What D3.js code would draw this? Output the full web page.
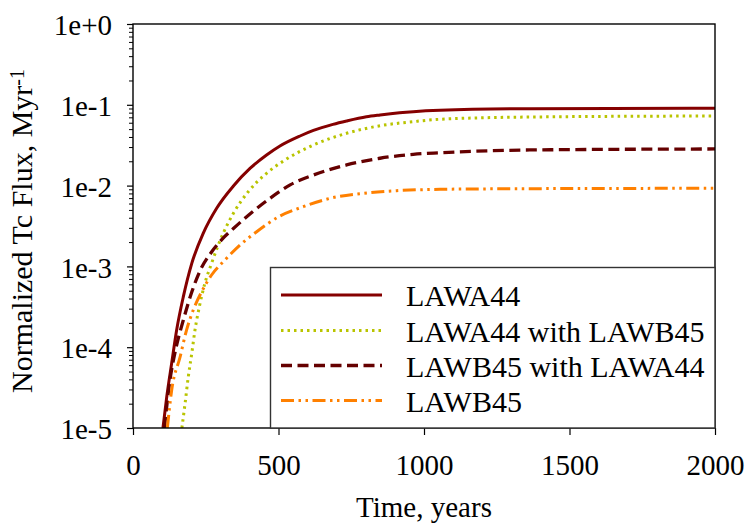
<!DOCTYPE html>
<html>
<head>
<meta charset="utf-8">
<script src="https://cdn.jsdelivr.net/npm/d3@7/dist/d3.min.js"></script>
<style>
  html, body { margin: 0; padding: 0; background: #fff; }
  svg { display: block; }
  text { font-family: "Liberation Serif", "Times New Roman", serif; fill: #000; }
</style>
</head>
<body>
<svg id="chart" width="746" height="527"></svg>
<script>
// Normalized Tc flux versus time for each waste form case
const seriesNames = ["LAWA44", "LAWA44 with LAWB45", "LAWB45 with LAWA44", "LAWB45"];

const timeLAWA44 = [103, 116, 133, 150, 173, 202, 242, 288, 345, 402, 459, 505, 574, 620, 687, 734, 802, 849, 916, 963, 1055, 1364, 2000];
const fluxLAWA44 = [1.0e-5, 2.44e-5, 6.37e-5, 1.63e-4, 4.22e-4, 1.09e-3, 2.6e-3, 5.28e-3, 9.89e-3, 0.0163, 0.0239, 0.0309, 0.0411, 0.0482, 0.0572, 0.063, 0.071, 0.0748, 0.0796, 0.0822, 0.0855, 0.0895, 0.0908];

const timeA44wB45 = [168, 179, 190, 202, 213, 228, 247, 270, 293, 310, 345, 396, 459, 522, 620, 734, 849, 963, 1055, 1364, 2000];
const fluxA44wB45 = [1.0e-5, 2.02e-5, 4.31e-5, 8.41e-5, 1.63e-4, 3.17e-4, 6.18e-4, 1.09e-3, 1.84e-3, 2.57e-3, 4.54e-3, 8.4e-3, 0.0142, 0.0207, 0.0318, 0.0444, 0.0551, 0.0618, 0.0662, 0.0706, 0.0727];

const timeB45wA44 = [108, 127, 144, 173, 202, 230, 270, 305, 345, 408, 471, 540, 620, 734, 849, 963, 1055, 1364, 2000];
const fluxB45wA44 = [1.0e-5, 3.93e-5, 8.5e-5, 2.17e-4, 4.82e-4, 8.77e-4, 1.51e-3, 2.15e-3, 2.94e-3, 4.65e-3, 6.97e-3, 0.0102, 0.0135, 0.018, 0.0218, 0.0244, 0.0255, 0.0276, 0.0284];

const timeLAWB45 = [118, 133, 162, 184, 207, 236, 270, 316, 368, 425, 505, 585, 677, 791, 906, 1055, 1364, 2000];
const fluxLAWB45 = [1.0e-5, 2.95e-5, 7.62e-5, 1.63e-4, 2.88e-4, 4.86e-4, 7.83e-4, 1.2e-3, 1.84e-3, 2.69e-3, 4.2e-3, 5.48e-3, 6.96e-3, 8.03e-3, 8.65e-3, 9.0e-3, 9.16e-3, 9.26e-3];

const xTicks = [0, 500, 1000, 1500, 2000];
const yTicks = [1, 1e-1, 1e-2, 1e-3, 1e-4, 1e-5];
const yTickLabels = ["1e+0", "1e-1", "1e-2", "1e-3", "1e-4", "1e-5"];

const series = [
  { name: seriesNames[0], t: timeLAWA44, v: fluxLAWA44, color: "#850000", width: 3, dash: null },
  { name: seriesNames[1], t: timeA44wB45, v: fluxA44wB45, color: "#B9C400", width: 3, dash: "2.5,4" },
  { name: seriesNames[2], t: timeB45wA44, v: fluxB45wA44, color: "#650000", width: 3.3, dash: "11,5.5" },
  { name: seriesNames[3], t: timeLAWB45, v: fluxLAWB45, color: "#FF8000", width: 3, dash: "13,4.5,2.5,4.5,2.5,4.5" }
];

const svg = d3.select("#chart");
const plot = { left: 133, right: 715, top: 24, bottom: 428 };

const x = d3.scaleLinear().domain([0, 2000]).range([plot.left, plot.right]);
const y = d3.scaleLog().domain([1e-5, 1]).range([plot.bottom, plot.top]);

svg.append("defs").append("clipPath").attr("id", "plotClip")
  .append("rect")
  .attr("x", plot.left).attr("y", plot.top)
  .attr("width", plot.right - plot.left).attr("height", plot.bottom - plot.top);

// curves
const line = d3.line()
  .x(d => x(d[0]))
  .y(d => y(d[1]))
  .curve(d3.curveMonotoneX);

const curves = svg.append("g").attr("clip-path", "url(#plotClip)");
series.forEach(s => {
  curves.append("path")
    .datum(s.t.map((t, i) => [t, s.v[i]]))
    .attr("fill", "none")
    .attr("stroke", s.color)
    .attr("stroke-width", s.width)
    .attr("stroke-dasharray", s.dash)
    .attr("d", line);
});

// minor log ticks on the y axis
const minorTicks = [];
for (let e = -5; e < 0; e++) {
  for (let m = 2; m <= 9; m++) minorTicks.push(m * Math.pow(10, e));
}
svg.append("g")
  .attr("transform", `translate(${plot.left},0)`)
  .call(d3.axisLeft(y).tickValues(minorTicks).tickSize(4).tickFormat(""))
  .call(g => g.select(".domain").remove())
  .call(g => g.selectAll("line").attr("stroke", "#000").attr("stroke-width", 1));

// major y ticks with labels
const yAxis = svg.append("g")
  .attr("transform", `translate(${plot.left},0)`)
  .call(d3.axisLeft(y).tickValues(yTicks).tickSize(6).tickSizeOuter(0)
    .tickFormat((d, i) => yTickLabels[i]));
yAxis.select(".domain").remove();
yAxis.selectAll("line").attr("stroke", "#000").attr("stroke-width", 1.2);
yAxis.selectAll("text")
  .attr("x", -21).attr("dy", "0.37em")
  .style("font-size", "29px")
  .style("font-family", "'Liberation Serif', 'Times New Roman', serif");

// x axis ticks and labels
const xAxis = svg.append("g")
  .attr("transform", `translate(0,${plot.bottom})`)
  .call(d3.axisBottom(x).tickValues(xTicks).tickSize(7).tickSizeOuter(0)
    .tickFormat(d3.format("d")));
xAxis.select(".domain").remove();
xAxis.selectAll("line").attr("stroke", "#000").attr("stroke-width", 1.2);
xAxis.selectAll("text")
  .attr("y", 47).attr("dy", null)
  .style("font-size", "29px")
  .style("font-family", "'Liberation Serif', 'Times New Roman', serif");

// plot frame
svg.append("rect")
  .attr("x", plot.left).attr("y", plot.top)
  .attr("width", plot.right - plot.left).attr("height", plot.bottom - plot.top)
  .attr("fill", "none").attr("stroke", "#000").attr("stroke-width", 1.4);

// legend
const legend = svg.append("g");
legend.append("rect")
  .attr("x", 270.5).attr("y", 267.5)
  .attr("width", plot.right - 270.5).attr("height", plot.bottom - 267.5)
  .attr("fill", "#fff").attr("stroke", "#333").attr("stroke-width", 1.4);
const rowY = [295, 330.5, 365.5, 400.5];
series.forEach((s, i) => {
  legend.append("line")
    .attr("x1", 281).attr("x2", 382)
    .attr("y1", rowY[i]).attr("y2", rowY[i])
    .attr("stroke", s.color)
    .attr("stroke-width", s.width)
    .attr("stroke-dasharray", s.dash);
  legend.append("text")
    .attr("x", 406).attr("y", rowY[i] + 11)
    .style("font-size", "30px")
    .text(s.name);
});

// axis titles
svg.append("text")
  .attr("x", (plot.left + plot.right) / 2).attr("y", 517)
  .attr("text-anchor", "middle")
  .style("font-size", "29px")
  .text("Time, years");

const yTitle = svg.append("text")
  .attr("transform", "translate(32,231) rotate(-90)")
  .attr("text-anchor", "middle")
  .style("font-size", "30px");
yTitle.append("tspan").text("Normalized Tc Flux, Myr");
yTitle.append("tspan").attr("dy", "-0.42em").style("font-size", "20px").text("-1");
</script>
</body>
</html>
